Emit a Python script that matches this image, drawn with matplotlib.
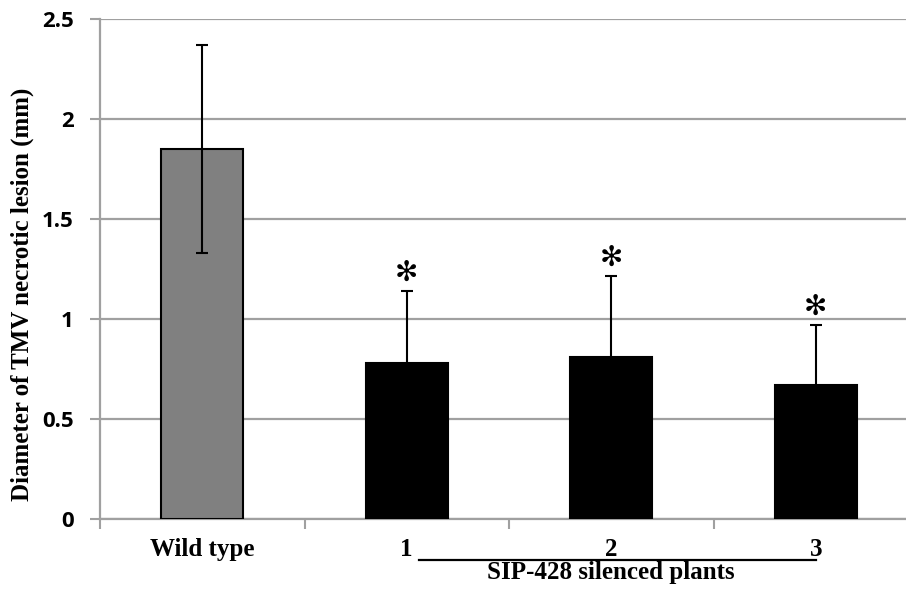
import numpy as np
import matplotlib
matplotlib.use('Agg')
from matplotlib import pyplot as plt
from matplotlib.ticker import FixedLocator, NullFormatter

# data
categories = ['Wild type', '1', '2', '3']
means = [1.85, 0.78, 0.81, 0.67]
errors = [0.52, 0.36, 0.405, 0.30]
bar_colors = ['#808080', 'black', 'black', 'black']
significant = [False, True, True, True]
group_label = 'SIP-428 silenced plants'

fig = plt.figure(figsize=(9.06, 5.93), dpi=100)
# axes runs a bit past the right edge like the original
ax = fig.add_axes([100 / 906, 74 / 593, 818 / 906, 500 / 593])

x = np.arange(len(categories))
ax.bar(x, means, width=0.4, color=bar_colors, edgecolor='black', linewidth=1.5, zorder=3)
ax.errorbar(x, means, yerr=errors, fmt='none', ecolor='black', elinewidth=1.5,
            capsize=4.5, capthick=1.5, zorder=4)

for xi, m, e, s in zip(x, means, errors, significant):
    if s:
        ax.annotate('\u273b', xy=(xi, m + e), xytext=(0, 3), textcoords='offset points',
                    ha='center', va='bottom', fontsize=20, fontweight='bold',
                    family='DejaVu Sans', zorder=5)

ax.set_xlim(-0.5, 3.5)
ax.set_ylim(0, 2.5)
ax.set_yticks(np.arange(0, 2.51, 0.5))
ax.set_yticklabels(['0', '0.5', '1', '1.5', '2', '2.5'])
ax.yaxis.grid(True, color='#a0a0a0', linewidth=1.6, zorder=0)
ax.set_axisbelow(True)

# boundary ticks without labels, labels at bar centres
ax.xaxis.set_major_locator(FixedLocator(np.arange(-0.5, 3.6, 1.0)))
ax.xaxis.set_major_formatter(NullFormatter())
ax.xaxis.set_minor_locator(FixedLocator(x))
ax.set_xticklabels(categories, minor=True)
ax.tick_params(axis='x', which='major', direction='out', length=7, width=1.5, color='#a0a0a0')
ax.tick_params(axis='x', which='minor', length=0, pad=14)
ax.tick_params(axis='y', direction='out', length=7, width=1.5, color='#a0a0a0', pad=12)

for lab in ax.get_xticklabels(minor=True):
    lab.set_family('Liberation Serif')
    lab.set_fontweight('bold')
    lab.set_fontsize(18)
for lab in ax.get_yticklabels():
    lab.set_family('Open Sans')
    lab.set_fontweight('bold')
    lab.set_fontsize(16)

for side in ['top', 'right']:
    ax.spines[side].set_visible(False)
ax.spines['left'].set_color('#a0a0a0')
ax.spines['left'].set_linewidth(1.6)
ax.spines['bottom'].set_color('#a0a0a0')
ax.spines['bottom'].set_linewidth(1.6)

# group line and label under silenced plants
trans = ax.get_xaxis_transform()
ax.plot([1.06, 3.0], [-0.082, -0.082], color='black', linewidth=1.6,
        transform=trans, clip_on=False)
ax.text(2.0, -0.108, group_label, transform=trans, ha='center', va='center',
        family='Liberation Serif', fontweight='bold', fontsize=18)

fig.text(22 / 906, 1 - 294 / 593, 'Diameter of TMV necrotic lesion (mm)', rotation=90,
         ha='center', va='center', family='Liberation Serif', fontweight='bold', fontsize=18)

fig.savefig('out.png', dpi=100)
